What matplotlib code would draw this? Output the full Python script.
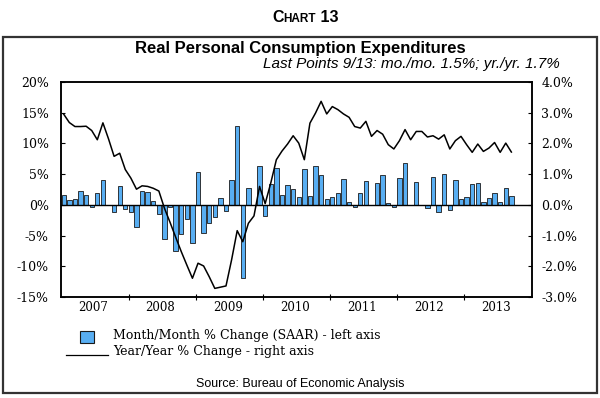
import matplotlib
matplotlib.use("Agg")
import matplotlib.pyplot as plt
from matplotlib.patches import Rectangle
from matplotlib.lines import Line2D
import numpy as np

# monthly data, Jan 2007 .. Sep 2013
mom_saar = [
    1.6, 0.8, 0.9, 2.3, 1.55, -0.43, 2.0, 4.02, -0.1, -1.2, 3.07, -0.73,
    -1.2, -3.62, 2.3, 2.07, 0.65, -1.41, -5.54, -0.43, -7.55, -4.78, -2.28, -6.2,
    5.38, -4.51, -2.88, -1.9, 1.09, -0.98, 4.02, 12.88, -11.85, 2.77, -0.1, 6.25,
    -1.85, 3.37, 6.03, 1.58, 3.3, 2.6, 1.2, 5.9, 1.44, 6.36, 4.78, 1.03,
    1.2, 2.01, 4.29, 0.43, -0.27, 1.96, 3.91, 0.0, 3.53, 4.78, 0.33, -0.33,
    4.4, 6.8, 0.0, 3.7, -0.08, -0.45, 4.6, -1.14, 5.05, -0.88, 4.0, 1.0,
    1.3, 3.35, 3.5, 0.45, 1.15, 1.95, 0.45, 2.7, 1.5,
]
yoy = [
    2.95, 2.68, 2.55, 2.55, 2.56, 2.42, 2.12, 2.67, 2.15, 1.58, 1.68, 1.15,
    0.87, 0.51, 0.62, 0.6, 0.54, 0.45, -0.11, -0.57, -1.05, -1.52, -1.96, -2.39,
    -1.9, -1.99, -2.34, -2.72, -2.68, -2.64, -1.79, -0.84, -1.2, -0.6, -0.36, 0.6,
    0.04, 0.71, 1.47, 1.75, 1.98, 2.25, 2.01, 1.47, 2.66, 2.99, 3.37, 2.96,
    3.2, 3.1, 2.96, 2.85, 2.55, 2.5, 2.72, 2.23, 2.42, 2.3, 1.96, 1.82,
    2.09, 2.45, 2.12, 2.39, 2.39, 2.21, 2.25, 2.14, 2.28, 1.82, 2.09, 2.23,
    1.96, 1.71, 1.98, 1.74, 1.85, 2.03, 1.71, 2.01, 1.72,
]
years = ["2007", "2008", "2009", "2010", "2011", "2012", "2013"]
left_ticks = [-15, -10, -5, 0, 5, 10, 15, 20]
right_ticks = [-3, -2, -1, 0, 1, 2, 3, 4]

W, H = 600, 398
fig = plt.figure(figsize=(W / 100, H / 100), dpi=100)

def fx(px):
    return px / W

def fy(py):
    return 1 - py / H

serif = "DejaVu Serif"
sans = "Liberation Sans"

# outer frame
fig.patches.append(Rectangle((fx(3), fy(393)), fx(594), 356 / H, transform=fig.transFigure,
                             fill=False, edgecolor="#333333", linewidth=1.6))

# "Chart 13" in small caps, pieces chained one after another
c1 = fig.text(fx(272), fy(22), "C", family=sans, weight="bold", fontsize=11.5, va="baseline")
c2 = fig.text(0, 0, "HART", family=sans, weight="bold", fontsize=8.5, va="baseline")
c3 = fig.text(0, 0, " 13", family=sans, weight="bold", fontsize=11.5, va="baseline")
fig.canvas.draw()
r = fig.canvas.get_renderer()
bb1 = c1.get_window_extent(r)
c2.set_position((bb1.x1 / W, fy(22)))
bb2 = c2.get_window_extent(r)
c3.set_position((bb2.x1 / W, fy(22)))

fig.text(0.5, fy(48), "Real Personal Consumption Expenditures", family=sans,
         weight="bold", fontsize=12, ha="center", va="center")
fig.text(fx(560), fy(64), "Last Points 9/13: mo./mo. 1.5%; yr./yr. 1.7%", family=sans,
         style="italic", fontsize=11, ha="right", va="center")

ax = fig.add_axes([fx(61.5), fy(297), fx(531.5) - fx(61.5), (297 - 82) / H])
ax2 = ax.twinx()

x = np.arange(len(mom_saar)) + 0.4
ax.bar(x, mom_saar, width=0.78, color="#58aef2", edgecolor="#1a1a1a", linewidth=0.6, zorder=2)
ax.axhline(0, color="black", linewidth=1.0, zorder=3)
ax2.plot(x, yoy, color="black", linewidth=1.1)

ax.set_xlim(0, 84)
ax.set_ylim(-15, 20)
ax2.set_ylim(-3, 4)

ax.set_yticks(left_ticks)
ax.set_yticklabels([f"{v}%" for v in left_ticks], family=serif, fontsize=9)
ax2.set_yticks(right_ticks)
ax2.set_yticklabels([f"{v:.1f}%" for v in right_ticks], family=serif, fontsize=9)
ax.tick_params(axis="y", direction="in", length=3, width=0.8, pad=9)
ax2.tick_params(axis="y", direction="in", length=3, width=0.8, pad=7)

ax.set_xticks([12 * i for i in range(1, 7)])
ax.set_xticklabels([])
ax.set_xticks([12 * i + 5.7 for i in range(7)], minor=True)
ax.set_xticklabels(years, minor=True, family=serif, fontsize=8.5)
ax.tick_params(axis="x", which="major", direction="inout", length=5, width=0.8)
ax.tick_params(axis="x", which="minor", length=0, pad=3)

for a in (ax, ax2):
    for s in a.spines.values():
        s.set_linewidth(1.1)
        s.set_color("black")

# legend
fig.patches.append(Rectangle((fx(80), fy(343)), fx(14), 12 / H, transform=fig.transFigure,
                             facecolor="#58aef2", edgecolor="#1a1a1a", linewidth=0.8))
fig.lines.append(Line2D([fx(66), fx(108)], [fy(355), fy(355)], transform=fig.transFigure,
                        color="black", linewidth=0.9))
fig.text(fx(113), fy(335), "Month/Month % Change (SAAR) - left axis", family=serif,
         fontsize=9, va="center")
fig.text(fx(113), fy(352), "Year/Year % Change - right axis", family=serif,
         fontsize=9, va="center")

fig.text(0.5, fy(384), "Source: Bureau of Economic Analysis", family=sans,
         fontsize=9, ha="center", va="center")

fig.savefig("out.png", dpi=100)
